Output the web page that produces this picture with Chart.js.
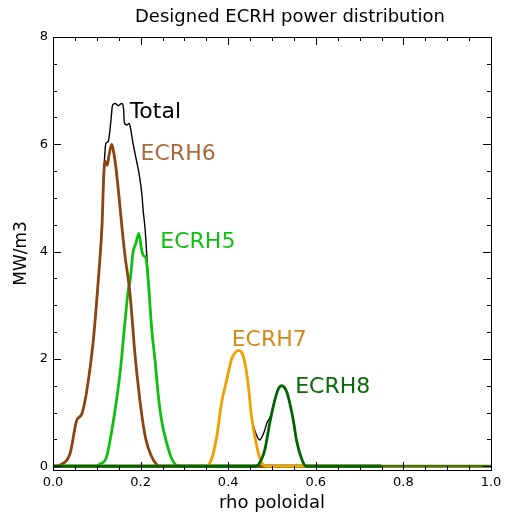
<!DOCTYPE html>
<html>
<head>
<meta charset="utf-8">
<title>Designed ECRH power distribution</title>
<script src="https://cdn.jsdelivr.net/npm/chart.js@4/dist/chart.umd.min.js"></script>
<style>
    html, body { margin: 0; padding: 0; background: #fff; }
    #wrap { position: relative; width: 512px; height: 516px; }
</style>
</head>
<body>
<div id="wrap"><canvas id="ecrhChart"></canvas></div>
<script>
'use strict';

// rho poloidal / power density (MW/m3)
const ecrh6Rho = [0.0, 0.009, 0.016, 0.039, 0.054, 0.066, 0.077, 0.092, 0.100, 0.107, 0.112, 0.116, 0.120, 0.124, 0.128, 0.134, 0.137, 0.142, 0.149, 0.157, 0.164, 0.176, 0.187, 0.202, 0.212, 0.224, 0.237, 0.247, 0.75];
const ecrh6Val = [0, 0, 0.02, 0.24, 0.85, 0.98, 1.40, 2.34, 3.10, 3.85, 4.50, 5.45, 5.68, 5.61, 5.80, 6.00, 5.92, 5.67, 5.17, 4.49, 3.95, 3.20, 2.10, 1.00, 0.50, 0.20, 0.03, 0, 0];

const ecrh5Rho = [0.0, 0.096, 0.107, 0.122, 0.137, 0.153, 0.164, 0.172, 0.176, 0.183, 0.189, 0.196, 0.202, 0.206, 0.212, 0.218, 0.225, 0.233, 0.240, 0.248, 0.260, 0.271, 0.286, 0.75];
const ecrh5Val = [0, 0, 0.04, 0.17, 0.80, 1.73, 2.66, 3.30, 3.46, 4.00, 4.15, 4.34, 4.05, 3.93, 3.88, 3.40, 2.59, 1.97, 1.35, 0.85, 0.42, 0.14, 0, 0];

const ecrh7Rho = [0.0, 0.350, 0.362, 0.374, 0.385, 0.397, 0.408, 0.416, 0.423, 0.431, 0.438, 0.446, 0.453, 0.465, 0.476, 0.488, 0.75];
const ecrh7Val = [0, 0, 0.13, 0.56, 1.19, 1.62, 2.00, 2.12, 2.16, 2.12, 1.93, 1.50, 0.94, 0.38, 0.07, 0, 0];

const ecrh8Rho = [0.0, 0.463, 0.476, 0.484, 0.495, 0.507, 0.514, 0.522, 0.534, 0.541, 0.549, 0.556, 0.568, 0.578, 0.75];
const ecrh8Val = [0, 0, 0.13, 0.32, 0.81, 1.25, 1.43, 1.50, 1.38, 1.16, 0.84, 0.48, 0.13, 0, 0];

const totalRho = [0.0, 0.009, 0.016, 0.039, 0.054, 0.066, 0.077, 0.092, 0.100, 0.107, 0.112, 0.116, 0.119, 0.121, 0.126, 0.132, 0.136, 0.142, 0.149, 0.157, 0.161, 0.163, 0.168, 0.174, 0.177, 0.182, 0.187, 0.191, 0.197, 0.203, 0.206, 0.210, 0.214, 0.218, 0.225, 0.233, 0.240, 0.248, 0.260, 0.271, 0.286, 0.350, 0.362, 0.374, 0.385, 0.397, 0.408, 0.416, 0.423, 0.431, 0.438, 0.446, 0.453, 0.461, 0.472, 0.482, 0.489, 0.495, 0.507, 0.514, 0.522, 0.534, 0.541, 0.549, 0.556, 0.568, 0.578, 0.75];
const totalVal = [0, 0, 0.02, 0.24, 0.85, 0.98, 1.40, 2.34, 3.10, 3.85, 4.50, 5.45, 5.90, 6.02, 6.05, 6.42, 6.73, 6.76, 6.72, 6.76, 6.67, 6.40, 6.36, 6.39, 6.30, 6.05, 5.84, 5.68, 5.43, 5.06, 4.75, 4.45, 3.95, 3.45, 2.62, 1.98, 1.36, 0.86, 0.43, 0.15, 0.01, 0, 0.13, 0.56, 1.19, 1.62, 2.00, 2.12, 2.16, 2.12, 1.93, 1.50, 0.94, 0.66, 0.49, 0.64, 0.82, 0.90, 1.25, 1.43, 1.50, 1.38, 1.16, 0.84, 0.48, 0.13, 0, 0];

const baseRho = [0.0, 1.0];
const baseVal = [0, 0];

const xTickValues = [0.0, 0.2, 0.4, 0.6, 0.8, 1.0];
const yTickValues = [0, 2, 4, 6, 8];

const toPoints = (xs, ys) => xs.map((x, i) => ({ x: x, y: ys[i] }));

const EcrhPlot = {
    config: {
        font: '"DejaVu Sans", "Liberation Sans", sans-serif',
        xMinorStep: 0.05,
        yMinorStep: 0.5,
        labels: [
            { text: 'Total', x: 0.175, y: 6.6, color: '#000000' },
            { text: 'ECRH6', x: 0.2, y: 5.82, color: '#a86a3c' },
            { text: 'ECRH5', x: 0.245, y: 4.17, color: '#10c010' },
            { text: 'ECRH7', x: 0.408, y: 2.35, color: '#d28a18' },
            { text: 'ECRH8', x: 0.553, y: 1.48, color: '#0a6a0a' }
        ]
    },

    init() {
        const ctx = document.getElementById('ecrhChart');
        this.chart = new Chart(ctx, {
            type: 'line',
            data: { datasets: this.buildDatasets() },
            options: this.buildOptions(),
            plugins: [this.framePlugin()]
        });
    },

    line(label, xs, ys, color, width) {
        return {
            label: label,
            data: toPoints(xs, ys),
            borderColor: color,
            borderWidth: width,
            pointRadius: 0,
            cubicInterpolationMode: 'monotone',
            fill: false
        };
    },

    // earlier datasets are drawn on top
    buildDatasets() {
        return [
            this.line('ECRH8', ecrh8Rho, ecrh8Val, '#006400', 2.8),
            this.line('ECRH7', ecrh7Rho, ecrh7Val, '#f0a000', 2.8),
            this.line('ECRH6', ecrh6Rho, ecrh6Val, '#8b4513', 2.8),
            this.line('ECRH5', ecrh5Rho, ecrh5Val, '#10c010', 2.8),
            this.line('Total', totalRho, totalVal, '#000000', 1.4),
            this.line('Base', baseRho, baseVal, '#507000', 2.8)
        ];
    },

    buildOptions() {
        const font = this.config.font;
        return {
            responsive: true,
            maintainAspectRatio: false,
            animation: false,
            layout: { padding: { top: 37, right: 21, left: 0, bottom: 0 } },
            plugins: {
                legend: { display: false },
                tooltip: { enabled: false },
                title: { display: false }
            },
            scales: {
                x: {
                    type: 'linear',
                    min: 0,
                    max: 1,
                    border: { display: false },
                    grid: { display: false, drawTicks: false },
                    afterFit: (scale) => { scale.height = 46; },
                    afterBuildTicks: (scale) => {
                        scale.ticks = xTickValues.map(v => ({ value: v }));
                    },
                    ticks: {
                        color: '#000',
                        padding: 5,
                        maxRotation: 0,
                        autoSkip: false,
                        font: { family: font, size: 13 },
                        callback: (v) => Number(v).toFixed(1)
                    }
                },
                y: {
                    type: 'linear',
                    min: -0.07,
                    max: 8,
                    border: { display: false },
                    grid: { display: false, drawTicks: false },
                    afterFit: (scale) => { scale.width = 53; },
                    afterBuildTicks: (scale) => {
                        scale.ticks = yTickValues.map(v => ({ value: v }));
                    },
                    ticks: {
                        color: '#000',
                        padding: 5,
                        autoSkip: false,
                        font: { family: font, size: 13 },
                        callback: (v) => String(v)
                    }
                }
            }
        };
    },

    // IDL-style box with inward ticks, texts and curve labels
    framePlugin() {
        const cfg = this.config;
        return {
            id: 'frame',
            afterDraw(chart) {
                const { ctx, chartArea: a, scales } = chart;
                const xs = scales.x, ys = scales.y;
                ctx.save();
                ctx.strokeStyle = '#000';
                ctx.lineWidth = 1;
                ctx.strokeRect(a.left + 0.5, a.top + 0.5, a.right - a.left, a.bottom - a.top);

                ctx.beginPath();
                for (let i = 0; i <= 20; i++) {
                    const v = i * cfg.xMinorStep;
                    const px = Math.round(xs.getPixelForValue(v)) + 0.5;
                    const len = (i % 4 === 0) ? 8 : 4;
                    ctx.moveTo(px, a.bottom); ctx.lineTo(px, a.bottom - len);
                    ctx.moveTo(px, a.top); ctx.lineTo(px, a.top + len);
                }
                for (let i = 0; i <= 16; i++) {
                    const v = i * cfg.yMinorStep;
                    const py = Math.round(ys.getPixelForValue(v)) + 0.5;
                    const len = (i % 4 === 0) ? 8 : 4;
                    ctx.moveTo(a.left, py); ctx.lineTo(a.left + len, py);
                    ctx.moveTo(a.right, py); ctx.lineTo(a.right - len, py);
                }
                ctx.stroke();

                ctx.fillStyle = '#000';
                ctx.textAlign = 'center';
                ctx.textBaseline = 'middle';
                ctx.font = '18px ' + cfg.font;
                ctx.fillText('Designed ECRH power distribution', 290, 17);
                ctx.fillText('rho poloidal', (a.left + a.right) / 2, 503);

                ctx.save();
                ctx.translate(22, (a.top + a.bottom) / 2);
                ctx.rotate(-Math.PI / 2);
                ctx.font = '17px ' + cfg.font;
                ctx.fillText('MW/m3', 0, 0);
                ctx.restore();

                ctx.textAlign = 'left';
                ctx.font = '22px ' + cfg.font;
                cfg.labels.forEach(l => {
                    ctx.fillStyle = l.color;
                    ctx.fillText(l.text, xs.getPixelForValue(l.x), ys.getPixelForValue(l.y));
                });
                ctx.restore();
            }
        };
    }
};

document.addEventListener('DOMContentLoaded', () => {
    EcrhPlot.init();
});
</script>
</body>
</html>
